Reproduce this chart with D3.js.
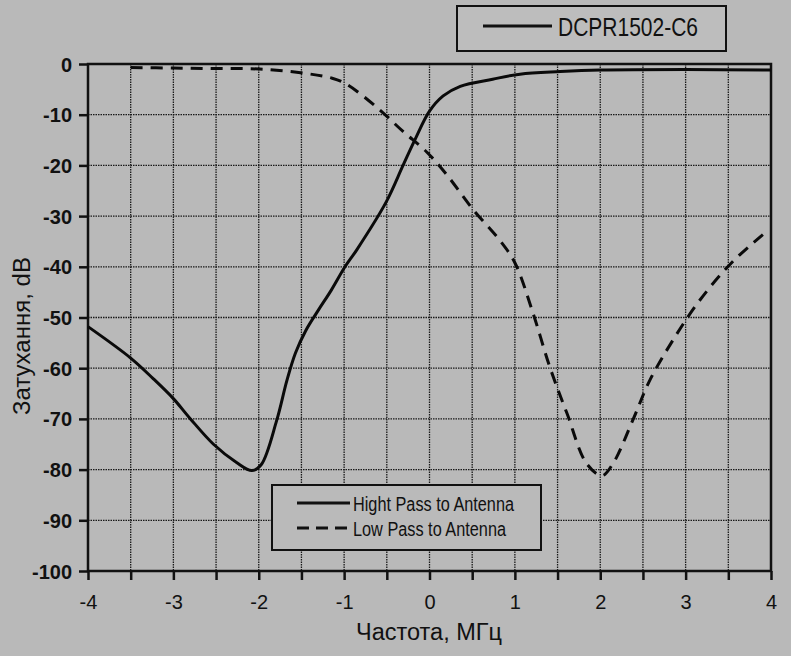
<!DOCTYPE html>
<html>
<head>
<meta charset="utf-8">
<script src="https://cdn.jsdelivr.net/npm/d3@7"></script>
<style>
  body { margin: 0; background: #b9b9b9; }
  svg { display: block; }
  text { font-family: "Liberation Sans", Arial, sans-serif; fill: #111; }
</style>
</head>
<body>
<div id="chart"></div>
<script>
// Hight Pass to Antenna (solid)
const hpFreq = [-4.0, -3.5, -3.24, -3.0, -2.8, -2.53, -2.26, -2.08, -1.97, -1.79, -1.67, -1.57, -1.45, -1.3, -1.15, -0.99, -0.85, -0.51, -0.31, -0.17, 0.0, 0.16, 0.36, 0.74, 1.06, 1.53, 2.0, 3.0, 4.0];
const hpAtt  = [-51.8, -58.0, -62.0, -66.0, -70.0, -75.0, -78.6, -80.2, -79.0, -70.3, -62.4, -57.0, -52.6, -48.5, -44.6, -40.0, -36.6, -27.3, -20.0, -14.9, -9.3, -6.3, -4.4, -3.0, -2.0, -1.5, -1.2, -1.1, -1.2];

// Low Pass to Antenna (dashed)
const lpFreq = [-3.5, -3.0, -2.5, -1.99, -1.48, -1.14, -0.97, -0.62, -0.31, -0.03, 0.2, 0.51, 0.82, 1.0, 1.21, 1.41, 1.61, 1.84, 2.02, 2.15, 2.38, 2.58, 2.85, 3.17, 3.55, 3.95];
const lpAtt  = [-0.7, -0.8, -0.9, -1.0, -1.8, -2.8, -4.0, -8.5, -13.3, -17.4, -21.8, -28.7, -34.7, -39.2, -49.0, -59.8, -68.9, -78.8, -81.2, -78.8, -70.3, -62.4, -54.5, -46.5, -39.0, -33.0];

const xTicks = [-4, -3, -2, -1, 0, 1, 2, 3, 4];
const xGrid = d3.range(-3.5, 4, 0.5);
const yTicks = [0, -10, -20, -30, -40, -50, -60, -70, -80, -90, -100];

const title = "DCPR1502-C6";
const legendLabels = ["Hight Pass to Antenna", "Low Pass to Antenna"];
const legendWidths = [161, 153];

const width = 791, height = 656;
const svg = d3.select("#chart").append("svg").attr("width", width).attr("height", height);

const x = d3.scaleLinear().domain([-4, 4]).range([88, 771]);
const y = d3.scaleLinear().domain([0, -100]).range([64, 571]);

// grid
svg.selectAll("line.vgrid").data(xGrid).enter().append("line")
    .attr("x1", d => x(d)).attr("x2", d => x(d))
    .attr("y1", y(0)).attr("y2", y(-100))
    .attr("stroke", "#1a1a1a").attr("stroke-width", 1.3).attr("stroke-dasharray", "1.5,1");
svg.selectAll("line.hgrid").data(yTicks.slice(1, -1)).enter().append("line")
    .attr("x1", x(-4)).attr("x2", x(4))
    .attr("y1", d => y(d)).attr("y2", d => y(d))
    .attr("stroke", "#1a1a1a").attr("stroke-width", 1.3).attr("stroke-dasharray", "1.5,1");

// frame
svg.append("rect").attr("x", x(-4)).attr("y", y(0))
    .attr("width", x(4) - x(-4)).attr("height", y(-100) - y(0))
    .attr("fill", "none").attr("stroke", "#111").attr("stroke-width", 2.5);

// axes
const xAxis = d3.axisBottom(x).tickValues(d3.range(-4, 4.01, 0.5)).tickSize(9)
    .tickFormat(d => xTicks.includes(d) ? String(d) : "");
const gx = svg.append("g").attr("transform", `translate(0,${y(-100)})`).call(xAxis);
gx.select(".domain").remove();
gx.selectAll(".tick line").attr("stroke", "#111").attr("stroke-width", 2.5);
gx.selectAll(".tick text").attr("y", 38).attr("dy", null).style("font-size", "20px")
    .attr("font-family", null).attr("fill", "#111");

const yAxis = d3.axisLeft(y).tickValues(yTicks).tickSize(9).tickPadding(7).tickFormat(d => String(d));
const gy = svg.append("g").attr("transform", `translate(${x(-4)},0)`).call(yAxis);
gy.select(".domain").remove();
gy.selectAll(".tick line").attr("stroke", "#111").attr("stroke-width", 2.5);
gy.selectAll(".tick text").style("font-size", "20px").style("font-weight", "bold")
    .attr("font-family", null).attr("fill", "#111").attr("dy", "0.35em");

// axis titles
svg.append("text").attr("x", 356).attr("y", 640)
    .attr("textLength", 146).attr("lengthAdjust", "spacingAndGlyphs")
    .style("font-size", "23px").text("Частота, МГц");
svg.append("text").attr("transform", "translate(30,415) rotate(-90)")
    .attr("textLength", 158).attr("lengthAdjust", "spacingAndGlyphs")
    .style("font-size", "23px").text("Затухання, dB");

// curves
const line = d3.line().x(d => x(d[0])).y(d => y(d[1])).curve(d3.curveCatmullRom.alpha(0.5));
svg.append("path").datum(hpFreq.map((f, i) => [f, hpAtt[i]]))
    .attr("d", line).attr("fill", "none").attr("stroke", "#0a0a0a").attr("stroke-width", 3);
svg.append("path").datum(lpFreq.map((f, i) => [f, lpAtt[i]]))
    .attr("d", line).attr("fill", "none").attr("stroke", "#0a0a0a").attr("stroke-width", 3)
    .attr("stroke-dasharray", "12,8");

// title box
const tb = svg.append("g");
tb.append("rect").attr("x", 457).attr("y", 6).attr("width", 269).attr("height", 45)
    .attr("fill", "#bdbdbd").attr("stroke", "#111").attr("stroke-width", 2);
tb.append("line").attr("x1", 483).attr("x2", 552).attr("y1", 26).attr("y2", 26)
    .attr("stroke", "#111").attr("stroke-width", 3);
tb.append("text").attr("x", 558).attr("y", 36)
    .attr("textLength", 140).attr("lengthAdjust", "spacingAndGlyphs")
    .style("font-size", "25px").text(title);

// legend
const lg = svg.append("g");
lg.append("rect").attr("x", 272).attr("y", 485).attr("width", 269).attr("height", 65)
    .attr("fill", "#bababa").attr("stroke", "#111").attr("stroke-width", 2);
legendLabels.forEach((lab, i) => {
    const ly = 503 + i * 25;
    lg.append("line").attr("x1", 297).attr("x2", 350).attr("y1", ly).attr("y2", ly)
        .attr("stroke", "#111").attr("stroke-width", 3)
        .attr("stroke-dasharray", i === 1 ? "12,7" : null);
    lg.append("text").attr("x", 353).attr("y", ly + 8)
        .attr("textLength", legendWidths[i]).attr("lengthAdjust", "spacingAndGlyphs")
        .style("font-size", "20px").text(lab);
});
</script>
</body>
</html>
